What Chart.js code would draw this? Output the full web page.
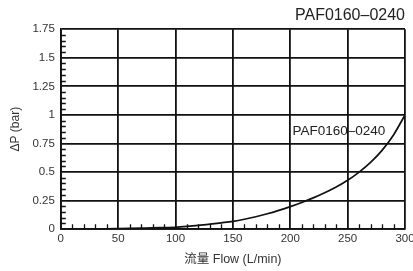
<!DOCTYPE html>
<html><head><meta charset="utf-8">
<script src="https://cdn.jsdelivr.net/npm/chart.js@4/dist/chart.umd.min.js"></script>
<style>html,body{margin:0;padding:0;background:#fff}#c{display:block}</style>
</head><body>
<div style="width:413px;height:271px"><canvas id="c" width="413" height="271"></canvas></div>
<script>
const flow = [0, 10, 20, 30, 40, 50, 60, 70, 80, 90, 100, 110, 120, 130, 140, 150, 160, 170, 180, 190, 200, 210, 220, 230, 240, 250, 260, 270, 280, 290, 300];
const dp   = [0, 0.0005, 0.001, 0.002, 0.003, 0.005, 0.007, 0.009, 0.011, 0.014, 0.017, 0.024, 0.033, 0.044, 0.056, 0.069, 0.087, 0.109, 0.135, 0.165, 0.198, 0.234, 0.274, 0.319, 0.37, 0.428, 0.5, 0.585, 0.69, 0.825, 1.0];
const seriesName = 'PAF0160–0240';
const chartTitle = 'PAF0160–0240';
const xTicks = [0, 50, 100, 150, 200, 250, 300];
const yTicks = [0, 0.25, 0.5, 0.75, 1, 1.25, 1.5, 1.75];
const xTitle = '流量 Flow (L/min)';
const yTitle = 'ΔP (bar)';
const labelAt = {x: 202, y: 0.853};

const FONT = "'Liberation Sans', Arial, 'Noto Sans CJK SC', sans-serif";

const minorTicks = {
  id: 'minorTicks',
  afterDatasetsDraw(chart) {
    const {ctx, chartArea: a, scales: {x, y}} = chart;
    ctx.save();
    ctx.strokeStyle = '#111';
    ctx.lineWidth = 1.3;
    ctx.beginPath();
    for (let v = 10; v < 300; v += 10) {
      if (v % 50 === 0) continue;
      const px = Math.round(x.getPixelForValue(v)) + 0.5;
      ctx.moveTo(px, a.bottom); ctx.lineTo(px, a.bottom - 5);
    }
    for (let v = 0.05; v < 1.75; v += 0.05) {
      const r = Math.round(v * 100);
      if (r % 25 === 0) continue;
      const py = Math.round(y.getPixelForValue(v)) + 0.5;
      ctx.moveTo(a.left, py); ctx.lineTo(a.left + 5, py);
    }
    ctx.stroke();
    ctx.fillStyle = '#222';
    ctx.font = '13.5px ' + FONT;
    ctx.textAlign = 'left';
    ctx.textBaseline = 'middle';
    ctx.fillText(seriesName, x.getPixelForValue(labelAt.x), y.getPixelForValue(labelAt.y));
    ctx.restore();
  }
};

new Chart(document.getElementById('c'), {
  type: 'scatter',
  data: {
    datasets: [{
      label: seriesName,
      data: flow.map((f, i) => ({x: f, y: dp[i]})),
      showLine: true,
      borderColor: '#111',
      borderWidth: 1.7,
      pointRadius: 0,
      cubicInterpolationMode: 'monotone',
      fill: false
    }]
  },
  options: {
    responsive: false,
    animation: false,
    layout: {padding: {left: 8, right: 8, top: 2, bottom: 4}},
    plugins: {
      legend: {display: false},
      tooltip: {enabled: false},
      title: {
        display: true, text: chartTitle, align: 'end', fullSize: false,
        color: '#222', font: {family: FONT, size: 16, weight: 'normal'},
        padding: {top: 4, bottom: 4}
      }
    },
    scales: {
      x: {
        type: 'linear', min: 0, max: 300,
        afterBuildTicks: s => { s.ticks = xTicks.map(v => ({value: v})); },
        afterFit: s => { s.paddingRight = 0; },
        ticks: {color: '#333', font: {family: FONT, size: 11.5}, padding: 3, maxRotation: 0},
        grid: {color: '#111', lineWidth: 1.8, drawTicks: false},
        border: {color: '#111', width: 1.8},
        title: {display: true, text: xTitle, color: '#333', font: {family: FONT, size: 12.5}, padding: {top: 3, bottom: 0}}
      },
      y: {
        type: 'linear', min: 0, max: 1.75,
        afterBuildTicks: s => { s.ticks = yTicks.map(v => ({value: v})); },
        ticks: {color: '#333', font: {family: FONT, size: 11.5}, padding: 6, callback: v => String(v)},
        grid: {color: '#111', lineWidth: 1.8, drawTicks: false},
        border: {color: '#111', width: 1.8},
        title: {display: true, text: yTitle, color: '#333', font: {family: FONT, size: 12}, padding: {top: 0, bottom: 4}}
      }
    }
  },
  plugins: [minorTicks]
});
</script>
</body></html>
